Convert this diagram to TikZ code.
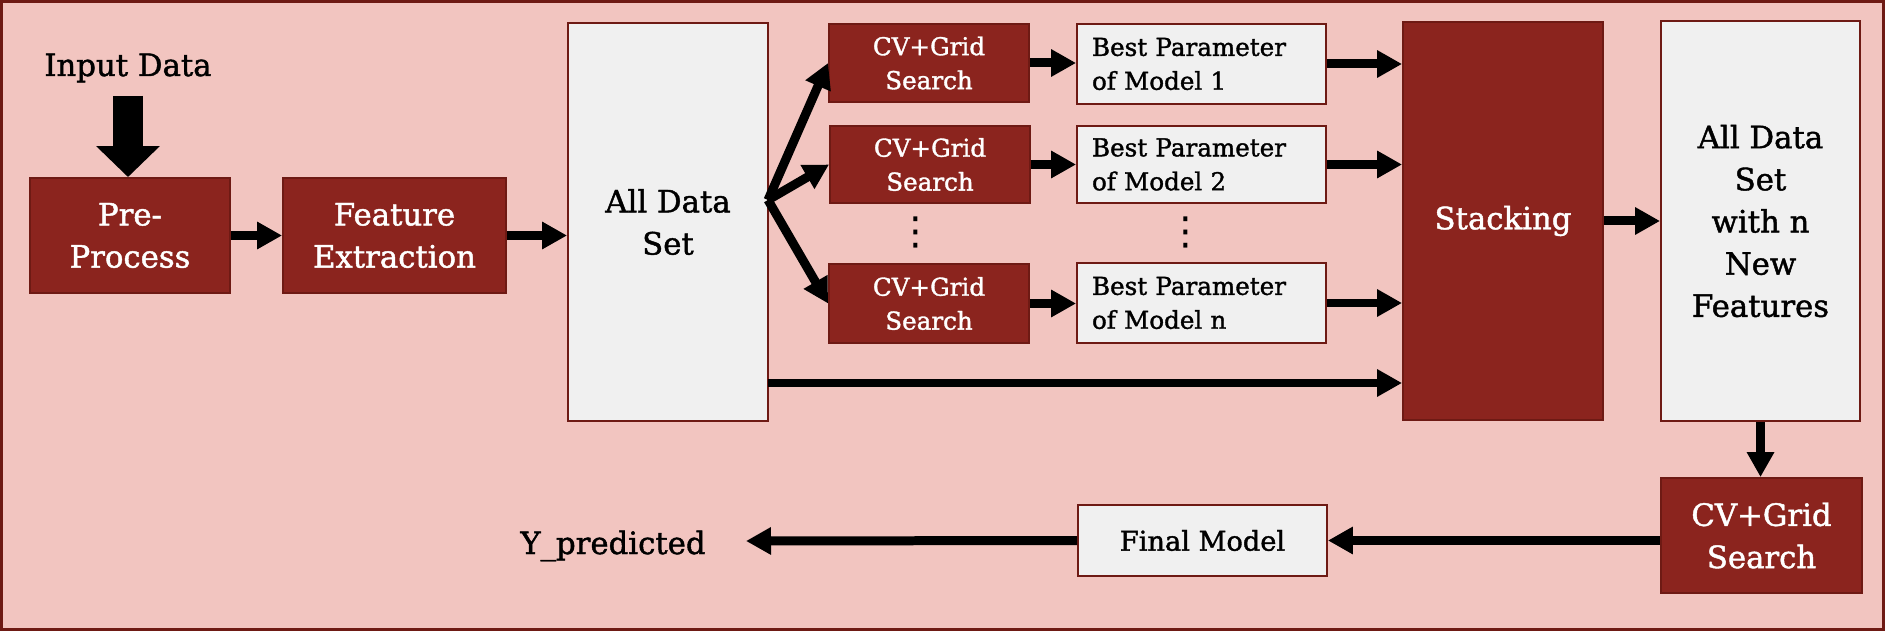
\documentclass[tikz,border=0pt]{standalone}
\usepackage{fontspec}
\setmainfont{DejaVu Serif}[FakeBold=1.4]
\newfontfamily\dotfont{DejaVu Sans}
\usetikzlibrary{calc}
\usetikzlibrary{arrows.meta}

\definecolor{bgpink}{RGB}{242,197,192}
\definecolor{boxred}{RGB}{139,36,30}
\definecolor{edgered}{RGB}{110,26,20}
\definecolor{boxgray}{RGB}{240,240,240}

\tikzset{
 dark/.style={draw=edgered, line width=1.1pt, fill=boxred, text=white, align=center, inner sep=0pt},
 light/.style={draw=edgered, line width=1.1pt, fill=boxgray, text=black, align=center, inner sep=0pt},
 big/.style={font=\fontsize{17.5}{24}\selectfont},
 small/.style={font=\fontsize{14}{19.3}\selectfont},
 bpbox/.style={light, small, align=left, text width=4.38cm, inner xsep=0.3cm, minimum height=1.6cm},
 vdot/.style={inner sep=0pt, font=\dotfont\fontsize{22}{22}\selectfont},
 arr/.style={line width=0.18cm, -{Triangle[length=0.5cm,width=0.52cm]}},
 fat/.style={line width=0.62cm, -{Triangle[length=0.62cm,width=1.24cm]}},
}

\begin{document}
\begin{tikzpicture}[x=0.02cm,y=-0.02cm]
\useasboundingbox (0,0) rectangle (1885,631);
\fill[bgpink] (0,0) rectangle (1885,631);
\draw[edgered, line width=0.06cm] (1.5,1.5) rectangle (1883.5,629.5);

\node[big, anchor=base] (input) at (128,76) {Input Data};
\node[dark, big, minimum width=4cm, minimum height=2.3cm] (pre) at (130,235.5) {Pre-\\Process};
\node[dark, big, minimum width=4.46cm, minimum height=2.3cm] (feat) at (394.5,235.5) {Feature\\Extraction};
\node[light, big, minimum width=4cm, minimum height=7.96cm] (all) at (668,222) {All Data\\Set};

\node[dark, small, minimum width=4cm, minimum height=1.56cm] (cva) at (929,63) {CV+Grid\\Search};
\node[dark, small, minimum width=4cm, minimum height=1.54cm] (cvb) at (930,164.5) {CV+Grid\\Search};
\node[dark, small, minimum width=4cm, minimum height=1.58cm] (cvc) at (929,303.5) {CV+Grid\\Search};
\node[bpbox] (bpa) at (1201.5,64) {Best Parameter\\of Model 1};
\node[bpbox, minimum height=1.54cm] (bpb) at (1201.5,164.5) {Best Parameter\\of Model 2};
\node[bpbox] (bpc) at (1201.5,303) {Best Parameter\\of Model n};
\node[vdot] (dotsa) at (916,232) {⋮};
\node[vdot] (dotsb) at (1186,232) {⋮};

\node[dark, big, minimum width=4cm, minimum height=7.96cm] (stack) at (1503,221) {Stacking};
\node[light, big, minimum width=3.98cm, minimum height=8cm] (allnew) at (1760.5,221) {All Data\\Set\\with n\\New\\Features};
\node[dark, big, minimum width=4.02cm, minimum height=2.3cm] (cvf) at (1761.5,535.5) {CV+Grid\\Search};
\node[light, font=\fontsize{15.5}{20}\selectfont, minimum width=4.98cm, minimum height=1.42cm] (final) at (1202.5,540.5) {Final Model};
\node[big, anchor=base] (ypred) at (613,554) {Y\_predicted};

\coordinate (inarr) at (128,96);
\draw[fat] (inarr) -- (inarr |- pre.north);
\draw[arr] (pre) -- (feat);
\draw[arr] (feat.east) -- (feat.east -| all.west);
\coordinate (fan) at (768,200);
\foreach \c in {cva,cvb,cvc}
 \draw[arr] (fan) -- (\c.west);
\foreach \i in {a,b,c} {
 \draw[arr] (cv\i.east) -- (cv\i.east -| bp\i.west);
 \draw[arr] (bp\i.east) -- (bp\i.east -| stack.west);
}
\coordinate (rest) at (768,383);
\draw[arr] (rest) -- (rest -| stack.west);
\draw[arr] (stack) -- (allnew);
\draw[arr] (allnew.south) -- (allnew.south |- cvf.north);
\draw[arr] (cvf.west |- final.east) -- (final.east);
\coordinate (ytip) at (746,541);
\draw[arr] (final.west) -- (ytip);
\end{tikzpicture}
\end{document}
